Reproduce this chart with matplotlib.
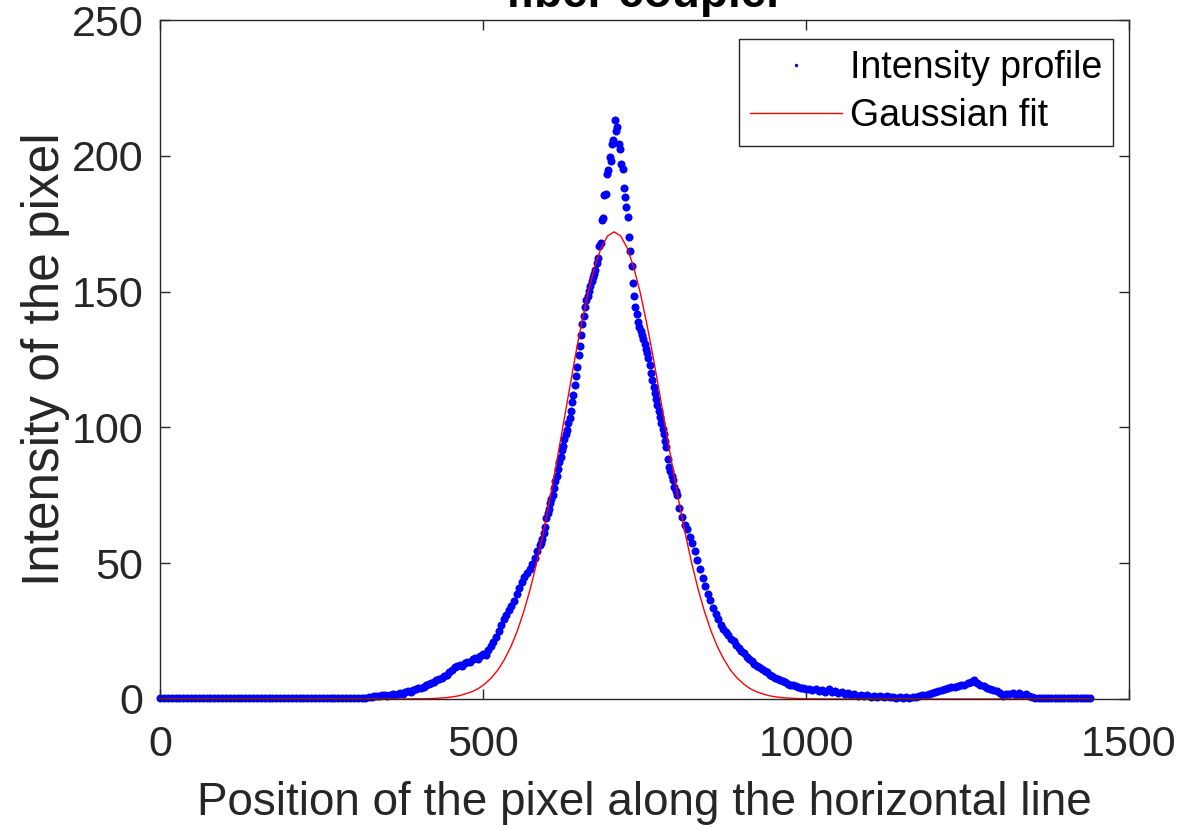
import matplotlib
matplotlib.use("Agg")
import matplotlib.pyplot as plt
import numpy as np


base_x = np.arange(0, 325, 6)
base_y = [
    0.3, 0.2, 0.3, 0.2, 0.3, 0.3, 0.2, 0.3, 0.2, 0.3, 0.3,
    0.2, 0.3, 0.2, 0.3, 0.3, 0.2, 0.3, 0.2, 0.3, 0.3, 0.2,
    0.3, 0.2, 0.3, 0.3, 0.2, 0.3, 0.2, 0.3, 0.3, 0.2, 0.3,
    0.2, 0.3, 0.3, 0.2, 0.3, 0.2, 0.3, 0.3, 0.2, 0.3, 0.2,
    0.3, 0.3, 0.2, 0.3, 0.2, 0.3, 0.3, 0.2, 0.4, 0.5, 0.6,
]

rise_x = np.arange(328, 589, 4)
rise_y = [
    0.8, 1.0, 1.2, 1.0, 1.3, 1.5, 1.2, 1.6, 1.8, 1.5,
    2.0, 2.2, 1.9, 2.5, 2.8, 2.6, 3.2, 3.6, 3.9, 4.2,
    4.6, 5.0, 5.5, 5.9, 6.3, 6.9, 7.4, 7.9, 8.6, 9.0,
    9.8, 10.5, 11.6, 12.0, 12.6, 12.2, 13.4, 13.8, 13.5, 14.6,
    15.2, 14.8, 15.9, 16.6, 16.2, 18.0, 19.6, 21.0, 22.8, 25.0,
    27.4, 29.5, 31.0, 32.6, 34.2, 36.0, 38.5, 40.8, 43.0, 45.0,
    46.4, 47.8, 49.6, 52.0, 54.5, 56.8,
]

peak_x = np.arange(590, 801, 2)
peak_y = [
    57.5, 58.8, 61.0, 63.5, 66.8, 68.5, 70.0, 72.3, 73.8, 75.0,
    77.6, 80.4, 82.0, 84.5, 87.2, 89.0, 91.5, 93.0, 95.8, 97.5,
    99.0, 101.6, 103.5, 106.0, 109.2, 112.0, 115.5, 118.8, 122.4, 126.5,
    130.0, 134.2, 138.0, 141.0, 144.2, 147.0, 148.5, 150.2, 152.0, 153.8,
    155.5, 156.4, 158.0, 160.5, 162.4, 166.8, 168.0, 176.5, 177.2, 185.5,
    186.0, 193.4, 194.8, 199.6, 198.2, 204.5, 205.8, 213.0, 209.0, 210.6,
    204.2, 202.4, 196.8, 195.0, 188.0, 185.0, 181.0, 177.6, 170.2, 165.0,
    159.5, 153.0, 148.2, 144.5, 141.6, 138.8, 137.0, 135.6, 134.2, 132.5,
    130.8, 129.0, 127.4, 125.6, 122.8, 120.0, 117.4, 115.0, 112.6, 110.4,
    108.2, 106.0, 103.8, 101.6, 99.5, 97.4, 95.0, 92.6, 88.5, 85.6,
    84.0, 82.2, 80.6, 78.0, 76.4, 75.2,
]

fall_x = np.arange(804, 1001, 4)
fall_y = [
    70.5, 67.0, 64.2, 62.5, 59.8, 57.4, 54.6, 51.0, 47.8, 44.6,
    41.5, 38.8, 36.6, 33.5, 31.2, 29.5, 27.2, 25.6, 24.8, 23.4,
    22.2, 21.4, 19.8, 18.6, 17.8, 16.8, 15.6, 14.8, 13.9, 13.0,
    12.2, 11.6, 11.0, 10.2, 9.8, 9.0, 8.4, 7.9, 7.4, 7.0,
    6.6, 6.2, 5.6, 5.3, 5.0, 4.8, 4.4, 4.0, 4.2, 3.8,
]

tail_x = np.arange(1005, 1441, 5)
tail_y = [
    3.6, 3.2, 3.8, 2.8, 3.4, 2.6, 3.5, 2.4, 2.9, 2.2,
    2.6, 1.9, 2.1, 1.5, 1.8, 1.2, 1.4, 1.0, 1.3, 0.8,
    1.1, 0.9, 1.2, 0.7, 1.0, 0.6, 0.9, 0.5, 0.8, 0.4,
    0.7, 0.5, 0.9, 0.6, 1.0, 1.3, 1.6, 1.9, 2.3, 2.6,
    2.9, 3.2, 3.6, 4.0, 4.3, 4.6, 4.9, 5.3, 5.1, 5.8,
    6.2, 7.0, 6.0, 5.3, 4.8, 4.2, 3.8, 3.3, 2.8, 2.2,
    1.0, 2.0, 1.8, 2.3, 1.6, 2.2, 1.4, 1.8, 1.2, 0.6,
    0.4, 0.3, 0.3, 0.3, 0.3, 0.3, 0.3, 0.3, 0.3, 0.3,
    0.3, 0.3, 0.3, 0.3, 0.3, 0.3, 0.3, 0.3,
]

# gaussian fit curve
fit_x = np.concatenate([[0], np.arange(303, 1104, 10), [1440]])
fit_y = [
    0.0,
    0.0, 0.0, 0.0, 0.0, 0.0, 0.0, 0.0, 0.01, 0.03, 0.05,
    0.08, 0.13, 0.2, 0.33, 0.5, 0.8, 1.2, 1.9, 2.7, 3.9,
    5.6, 7.8, 10.7, 14.5, 19.2, 25.0, 32.1, 40.4, 50.1, 61.0,
    73.0, 85.9, 99.4, 113.0, 126.4, 138.8, 150.0, 159.2, 166.2, 170.5,
    172.0,
    170.5, 166.2, 159.2, 150.0, 138.8, 126.4, 113.0, 99.4, 85.9, 73.0,
    61.0, 50.1, 40.4, 32.1, 25.0, 19.2, 14.5, 10.7, 7.8, 5.6,
    3.9, 2.7, 1.9, 1.2, 0.8, 0.5, 0.33, 0.2, 0.13, 0.08,
    0.05, 0.03, 0.01, 0.0, 0.0, 0.0, 0.0, 0.0, 0.0, 0.0,
    0.0,
]

x_ticks = [0, 500, 1000, 1500]
y_ticks = [0, 50, 100, 150, 200, 250]

INK = "#262626"


def main() -> None:
    plt.rcParams.update({"font.family": ["Liberation Sans", "DejaVu Sans"]})
    fig = plt.figure(figsize=(11.96, 8.25), dpi=100)
    ax = fig.add_axes([160 / 1196, 1 - 699 / 825, 969 / 1196, 679 / 825])

    px = np.concatenate([base_x, rise_x, peak_x, fall_x, tail_x])
    py = np.concatenate([base_y, rise_y, peak_y, fall_y, tail_y])
    ax.plot(px, py, linestyle="none", marker="o", markersize=5.8,
            markeredgewidth=0, color="#0000FF", clip_on=False,
            label="Intensity profile")
    ax.plot(fit_x, fit_y, color="#FF0000", linewidth=1.0, clip_on=False,
            label="Gaussian fit")

    ax.set_xlim(0, 1500)
    ax.set_ylim(0, 250)
    ax.set_xticks(x_ticks)
    ax.set_yticks(y_ticks)
    ax.tick_params(direction="in", top=True, right=True, length=7, width=1,
                   colors=INK, labelsize=31, labelcolor=INK)
    ax.tick_params(axis="x", pad=19)
    ax.tick_params(axis="y", pad=12)
    for sp in ax.spines.values():
        sp.set_color(INK)
        sp.set_linewidth(1.0)

    ax.set_xlabel("Position of the pixel along the horizontal line",
                  fontsize=33, color=INK, labelpad=11)
    ax.set_ylabel("Intensity of the pixel", fontsize=37, color=INK, labelpad=1)

    leg = ax.legend(loc="upper right", bbox_to_anchor=(1 - 16 / 969, 1 - 19 / 679),
                    borderaxespad=0, fontsize=27, fancybox=False, framealpha=1,
                    edgecolor=INK, handlelength=2.45, handletextpad=0.2,
                    markerscale=0.42, borderpad=0.3, labelspacing=0.32)
    leg.get_frame().set_linewidth(1.0)

    fig.text(645 / 1196, 1 - 7 / 825, "fiber coupler", ha="center",
             va="baseline", fontsize=33, fontweight="bold", color="black")

    fig.savefig("out.png", dpi=100)
    plt.close(fig)


if __name__ == "__main__":
    main()
